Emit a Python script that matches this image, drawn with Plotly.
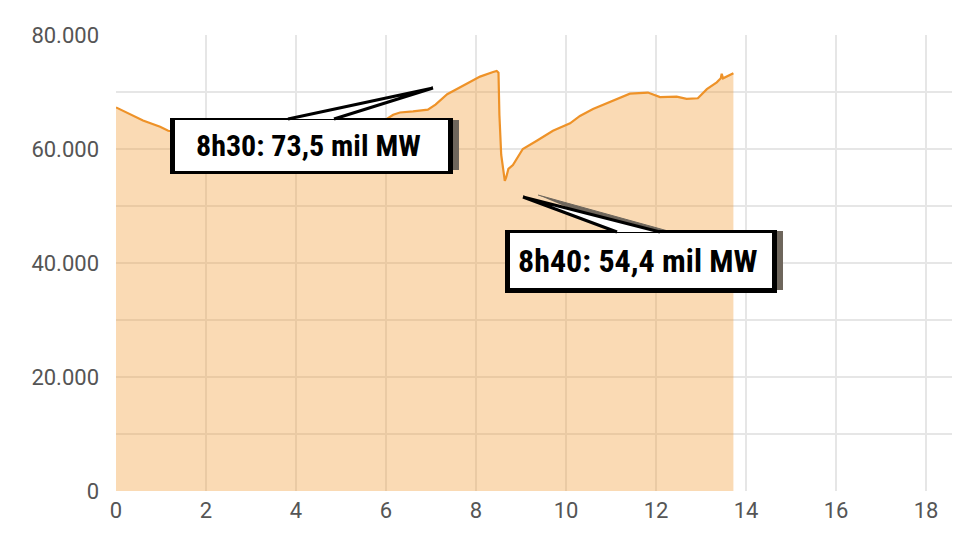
"""
Grid load curve with two call-out boxes (Plotly).
"""

import plotly.graph_objects as go

# hours of the day and load in MW
hours = [
    0.0, 0.31, 0.6, 0.98, 1.16, 1.5, 2.5, 3.5, 4.5, 5.5, 6.0, 6.16,
    6.31, 6.6, 6.93, 7.1, 7.36, 7.71, 8.09, 8.38, 8.46, 8.5, 8.52,
    8.56, 8.64, 8.67, 8.72, 8.82, 9.04, 9.36, 9.71, 10.09, 10.31,
    10.6, 10.98, 11.42, 11.82, 12.09, 12.46, 12.68, 12.93, 13.13,
    13.35, 13.44, 13.46, 13.49, 13.72,
]
load_mw = [
    67300, 66100, 65000, 63900, 63200, 62800, 62400, 62800, 63600,
    64600, 65200, 66000, 66400, 66600, 66900, 67800, 69600, 71100,
    72700, 73500, 73700, 73400, 66000, 59000, 54400, 55000, 56500,
    57200, 60000, 61500, 63200, 64500, 65800, 67000, 68300, 69700,
    69900, 69100, 69200, 68800, 68900, 70500, 71700, 72400, 73200,
    72400, 73300,
]

x_ticks = [0, 2, 4, 6, 8, 10, 12, 14, 16, 18]
y_ticks = [0, 20000, 40000, 60000, 80000]

callouts = ["8h30: 73,5 mil MW", "8h40: 54,4 mil MW"]

# plot area on the page in pixels: x 116..960, y 35..491
# (the page body adds an 8 px margin around the figure)
PX_PER_HOUR = 45
PX_PER_10K = 57


def px_x(p):
    return (p - 116) / PX_PER_HOUR


def px_y(p):
    return (491 - p) * 10000 / PX_PER_10K


def rect(x0, y0, x1, y1, color):
    return dict(
        type="rect", xref="x", yref="y",
        x0=px_x(x0), x1=px_x(x1), y0=px_y(y0), y1=px_y(y1),
        fillcolor=color, line=dict(width=0), layer="above",
    )


def wedge(points, fill, line_color, line_width):
    path = "M " + " L ".join(
        f"{px_x(a)},{px_y(b)}" for a, b in points
    )
    return dict(
        type="path", xref="x", yref="y", path=path,
        fillcolor=fill, line=dict(color=line_color, width=line_width),
        layer="above",
    )


fig = go.Figure()

fig.add_trace(
    go.Scatter(
        x=hours,
        y=load_mw,
        mode="lines",
        line=dict(color="rgb(238,146,40)", width=2.2),
        fill="tozeroy",
        fillcolor="rgba(240,150,40,0.35)",
        hoverinfo="skip",
    )
)

shapes = [
    # first call-out
    rect(453, 120, 459, 170, "#6e665c"),
    rect(170, 118, 453, 174, "black"),
    rect(175, 120, 448, 171, "white"),
    wedge([(288, 119), (433, 88), (334, 119)], "white", "black", 3),
    # second call-out
    rect(777, 231, 783, 290, "#6e665c"),
    wedge([(538, 195), (668, 231), (624, 231)], "#6e665c", "#6e665c", 1),
    rect(505, 230, 777, 293, "black"),
    rect(510, 233, 772, 288, "white"),
    wedge([(617, 232), (523, 197), (660, 232)], "white", "black", 3),
]

callout_font = dict(family="Roboto Condensed, Open Sans Condensed",
                    color="black", weight="bold")

annotations = [
    dict(
        x=px_x(308), y=px_y(145), xref="x", yref="y",
        text=callouts[0], showarrow=False,
        font=dict(callout_font, size=30),
    ),
    dict(
        x=px_x(638), y=px_y(261), xref="x", yref="y",
        text=callouts[1], showarrow=False,
        font=dict(callout_font, size=32),
    ),
]

fig.update_layout(
    width=952,
    height=532,
    margin=dict(l=108, r=0, t=27, b=49),
    plot_bgcolor="white",
    paper_bgcolor="white",
    showlegend=False,
    separators=",.",
    shapes=shapes,
    annotations=annotations,
    font=dict(family="Roboto", size=22, color="#555555"),
)

fig.update_xaxes(
    range=[0, 844 / PX_PER_HOUR],
    tickvals=x_ticks,
    showgrid=True,
    gridcolor="#e6e6e6",
    gridwidth=2,
    zeroline=False,
    showline=False,
    automargin=False,
    ticklabelstandoff=4,
)

fig.update_yaxes(
    range=[0, 80000],
    tickvals=y_ticks,
    tickformat=",d",
    showgrid=True,
    gridcolor="#e6e6e6",
    gridwidth=2,
    minor=dict(dtick=10000, showgrid=True, gridcolor="#e6e6e6", gridwidth=2),
    zeroline=False,
    showline=False,
    automargin=False,
    ticklabelstandoff=16,
)

fig.write_html("out.html")
